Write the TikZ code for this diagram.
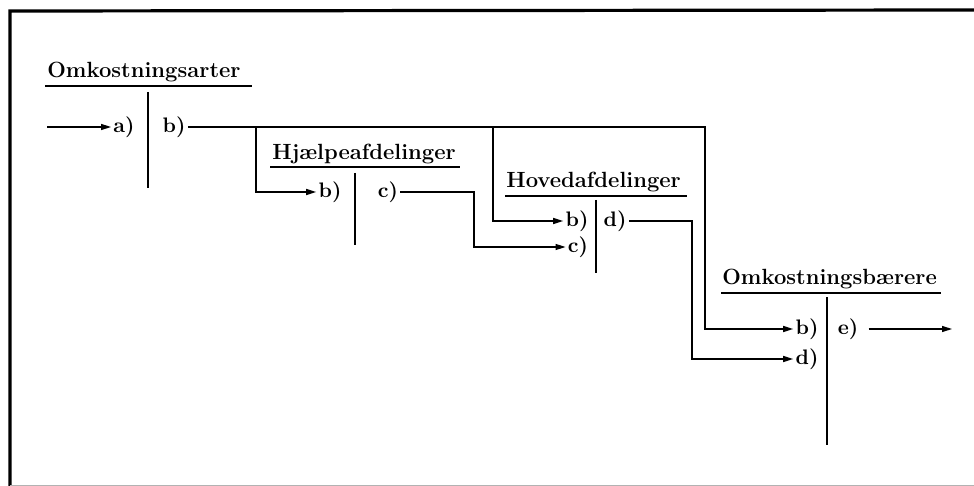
\documentclass[tikz,border=0pt]{standalone}
\usetikzlibrary{arrows.meta}
\begin{document}
\begin{tikzpicture}[x=0.5pt,y=-0.5pt,
  title/.style={font=\fontsize{11}{13}\selectfont\bfseries, inner sep=0pt, anchor=base west},
  lab/.style={font=\fontsize{10.5}{12}\selectfont\bfseries, inner sep=1pt},
  ln/.style={line width=0.7pt},
  uline/.style={line width=1.1pt},
  divider/.style={line width=1pt},
  arr/.style={ln,-{Triangle[length=5pt,width=3pt]}},
  frame/.style={line width=1.6pt}]
\useasboundingbox (0,0) rectangle (974,486);
% frame
\coordinate (f1) at (10,486);
\coordinate (f2) at (10,11);
\coordinate (f3) at (974,10);
\draw[frame] (f1) -- (f2) -- (f3);
\draw[line width=0.4pt, black!30] (10,485) -- (974,485);
% titles
\node[title] (t1) at (47,78) {Omkostningsarter};
\node[title] (t2) at (272,160) {Hjælpeafdelinger};
\node[title] (t3) at (506,188) {Hovedafdelinger};
\node[title] (t4) at (722,285) {Omkostningsbærere};
% underlines
\draw[uline] (45,86) -- (252,86);
\draw[uline] (270,167) -- (460,167);
\draw[uline] (505,196) -- (687,196);
\draw[uline] (721,293) -- (941,293);
% dividers
\draw[divider] (148,92) -- (148,188);
\draw[divider] (355,173) -- (355,245);
\draw[divider] (596,200) -- (596,273);
\draw[divider] (827,297) -- (827,445);
% labels
\node[lab] (a1) at (124,127) {a)};
\node[lab] (b1) at (174,127) {b)};
\node[lab] (bH) at (330,192) {b)};
\node[lab] (cH) at (388,192) {c)};
\node[lab] (bV) at (577,221) {b)};
\node[lab] (cV) at (578,247) {c)};
\node[lab] (dV) at (615,221) {d)};
\node[lab] (bB) at (807,329) {b)};
\node[lab] (dB) at (807,359) {d)};
\node[lab] (eB) at (848,329) {e)};
% connectors
\coordinate (s0) at (47,127);
\draw[arr] (s0) -- (a1.west);
\coordinate (k1) at (705,329);
\draw[arr] (b1.east) -| (k1) -- (bB.west);
\coordinate (j1) at (256,127);
\draw[arr] (j1) |- (bH.west);
\coordinate (j2) at (493,127);
\draw[arr] (j2) |- (bV.west);
\coordinate (k2) at (474,247);
\draw[arr] (cH.east) -| (k2) -- (cV.west);
\coordinate (k3) at (692,359);
\draw[arr] (dV.east) -| (k3) -- (dB.west);
\coordinate (e0) at (952,329);
\draw[arr] ([xshift=4pt]eB.east) -- (e0);
\end{tikzpicture}
\end{document}
